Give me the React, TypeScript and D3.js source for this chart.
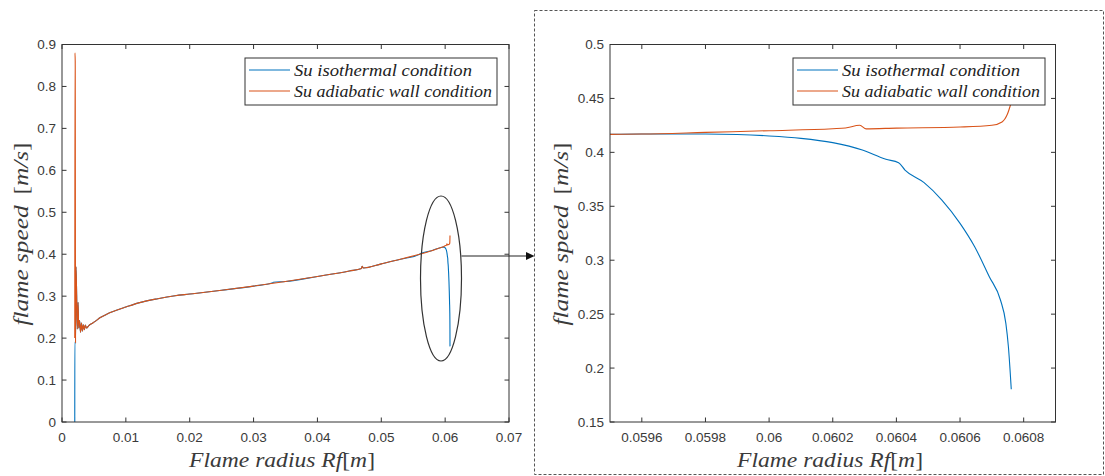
import React from "react";
import * as d3 from "d3";

// ---------- data ----------
const isoRadius = [
  0.002, 0.00201, 0.00212, 0.00219, 0.0023, 0.0024, 0.00252, 0.00262, 0.00275, 0.0029, 0.00305, 0.0032,
  0.00335, 0.0035, 0.00365, 0.00385, 0.0042, 0.0047, 0.0052, 0.006, 0.007, 0.0083, 0.01, 0.012, 0.015,
  0.0177, 0.02, 0.025, 0.03, 0.033, 0.0331, 0.035, 0.04, 0.045, 0.0469, 0.047, 0.0472, 0.05, 0.053, 0.056,
  0.0561, 0.058, 0.0595, 0.0596, 0.0598, 0.0599, 0.06, 0.0601, 0.0602, 0.060293, 0.060367, 0.060407,
  0.060427, 0.060487, 0.060543, 0.0606, 0.060646, 0.060692, 0.060727, 0.060744, 0.060752, 0.060761,
];
const isoSpeed = [
  0.0, 0.19, 0.188, 0.37, 0.3, 0.222, 0.285, 0.224, 0.242, 0.214, 0.236, 0.217,
  0.232, 0.22, 0.231, 0.224, 0.23, 0.235, 0.24, 0.249, 0.257, 0.265, 0.274, 0.284, 0.294,
  0.301, 0.305, 0.314, 0.324, 0.332, 0.333, 0.335, 0.347, 0.36, 0.366, 0.371, 0.367, 0.377, 0.388, 0.4,
  0.401, 0.409, 0.4167, 0.417, 0.417, 0.4165, 0.4152, 0.413, 0.409, 0.4022, 0.3936, 0.3904,
  0.3836, 0.3719, 0.3558, 0.3342, 0.3125, 0.2847, 0.2631, 0.2415, 0.2198, 0.1803,
];

const adiRadius = [
  0.002, 0.00203, 0.00207, 0.00212, 0.00219, 0.0023, 0.0024, 0.00252, 0.00262, 0.00275, 0.0029, 0.00305,
  0.0032, 0.00335, 0.0035, 0.00365, 0.00385, 0.0042, 0.0047, 0.0052, 0.006, 0.007, 0.0083, 0.01, 0.012,
  0.015, 0.0177, 0.02, 0.025, 0.03, 0.035, 0.04, 0.045, 0.0469, 0.047, 0.0472, 0.05, 0.053, 0.056, 0.058,
  0.0595, 0.0596, 0.0598, 0.06, 0.0602, 0.06024, 0.060285, 0.060305, 0.0604, 0.0606, 0.0607, 0.060732,
  0.060749, 0.060759,
];
const adiSpeed = [
  0.2, 0.88, 0.86, 0.188, 0.37, 0.3, 0.222, 0.285, 0.224, 0.242, 0.214, 0.236,
  0.217, 0.232, 0.22, 0.231, 0.224, 0.23, 0.235, 0.24, 0.249, 0.257, 0.265, 0.274, 0.284,
  0.294, 0.301, 0.305, 0.314, 0.324, 0.335, 0.347, 0.36, 0.366, 0.371, 0.367, 0.377, 0.388, 0.4, 0.409,
  0.4167, 0.417, 0.4185, 0.4201, 0.4219, 0.4226, 0.4251, 0.4218, 0.4225, 0.4235, 0.4251, 0.4282,
  0.4355, 0.4444,
];

const seriesNames = ["Su isothermal condition", "Su adiabatic wall condition"];
const seriesColors = ["#0072BD", "#D95319"];

const fullXTicks = [0, 0.01, 0.02, 0.03, 0.04, 0.05, 0.06, 0.07];
const fullXTickLabels = ["0", "0.01", "0.02", "0.03", "0.04", "0.05", "0.06", "0.07"];
const fullYTicks = [0, 0.1, 0.2, 0.3, 0.4, 0.5, 0.6, 0.7, 0.8, 0.9];
const fullYTickLabels = ["0", "0.1", "0.2", "0.3", "0.4", "0.5", "0.6", "0.7", "0.8", "0.9"];

const zoomXTicks = [0.0596, 0.0598, 0.06, 0.0602, 0.0604, 0.0606, 0.0608];
const zoomXTickLabels = ["0.0596", "0.0598", "0.06", "0.0602", "0.0604", "0.0606", "0.0608"];
const zoomYTicks = [0.15, 0.2, 0.25, 0.3, 0.35, 0.4, 0.45, 0.5];
const zoomYTickLabels = ["0.15", "0.2", "0.25", "0.3", "0.35", "0.4", "0.45", "0.5"];

// ---------- layout ----------
const W = 1105;
const H = 476;
const AX = "#333333";
const TXT = "#3a3a3a";
const SERIF = "'Liberation Serif', 'DejaVu Serif', serif";
const SANS = "'Liberation Sans', Arial, sans-serif";

type PanelProps = {
  id: string;
  left: number;
  right: number;
  top: number;
  bottom: number;
  xDomain: [number, number];
  yDomain: [number, number];
  xTicks: number[];
  xTickLabels: string[];
  yTicks: number[];
  yTickLabels: string[];
  legendX: number;
  yLabelX: number;
  xLabelX: number;
};

function Panel(p: PanelProps) {
  const x = d3.scaleLinear().domain(p.xDomain).range([p.left, p.right]);
  const y = d3.scaleLinear().domain(p.yDomain).range([p.bottom, p.top]);
  const line = d3
    .line<[number, number]>()
    .x((d) => x(d[0]))
    .y((d) => y(d[1]))
    .curve(d3.curveMonotoneX);
  const iso: [number, number][] = isoRadius.map((r, i) => [r, isoSpeed[i]]);
  const adi: [number, number][] = adiRadius.map((r, i) => [r, adiSpeed[i]]);
  const tl = 4.5;
  const clipId = "clip-" + p.id;
  const lx = p.legendX;
  const ly = 58;
  return (
    <g>
      <defs>
        <clipPath id={clipId}>
          <rect x={p.left} y={p.top} width={p.right - p.left} height={p.bottom - p.top} />
        </clipPath>
      </defs>
      <g clipPath={`url(#${clipId})`} fill="none" strokeWidth={1.1} strokeLinejoin="round">
        <path d={line(iso) || ""} stroke={seriesColors[0]} />
        <path d={line(adi) || ""} stroke={seriesColors[1]} />
      </g>
      {/* ticks (mirrored, inward) */}
      <g stroke={AX} strokeWidth={1}>
        {p.xTicks.map((t, i) => (
          <g key={"xt" + i}>
            <line x1={x(t)} x2={x(t)} y1={p.bottom} y2={p.bottom - tl} />
            <line x1={x(t)} x2={x(t)} y1={p.top} y2={p.top + tl} />
          </g>
        ))}
        {p.yTicks.map((t, i) => (
          <g key={"yt" + i}>
            <line x1={p.left} x2={p.left + tl} y1={y(t)} y2={y(t)} />
            <line x1={p.right} x2={p.right - tl} y1={y(t)} y2={y(t)} />
          </g>
        ))}
      </g>
      <rect
        x={p.left}
        y={p.top}
        width={p.right - p.left}
        height={p.bottom - p.top}
        fill="none"
        stroke={AX}
        strokeWidth={1}
      />
      {/* tick labels */}
      <g fontFamily={SANS} fontSize={13.5} fill={TXT}>
        {p.xTicks.map((t, i) => (
          <text key={"xl" + i} x={x(t)} y={p.bottom + 20} textAnchor="middle">
            {p.xTickLabels[i]}
          </text>
        ))}
        {p.yTicks.map((t, i) => (
          <text key={"yl" + i} x={p.left - 6} y={y(t) + 4.8} textAnchor="end">
            {p.yTickLabels[i]}
          </text>
        ))}
      </g>
      {/* axis labels */}
      <text
        x={p.xLabelX - 93}
        y={467}
        fontFamily={SERIF}
        fontSize={21}
        fill={TXT}
        textLength={186}
        lengthAdjust="spacingAndGlyphs"
      >
        <tspan fontStyle="italic">Flame radius Rf</tspan>
        <tspan>[</tspan>
        <tspan fontStyle="italic">m</tspan>
        <tspan>]</tspan>
      </text>
      <text
        transform={`translate(${p.yLabelX + 7},${234 + 91.5}) rotate(-90)`}
        fontFamily={SERIF}
        fontSize={21}
        fill={TXT}
        textLength={183}
        lengthAdjust="spacingAndGlyphs"
      >
        <tspan fontStyle="italic">flame speed</tspan>
        <tspan dx={9}>[</tspan>
        <tspan fontStyle="italic">m/s</tspan>
        <tspan>]</tspan>
      </text>
      {/* legend */}
      <rect x={lx} y={ly} width={252} height={47} fill="#fff" stroke={AX} strokeWidth={1} />
      {seriesNames.map((name, i) => {
        const rowY = ly + 12 + i * 21;
        return (
          <g key={"lg" + i}>
            <line x1={lx + 4} x2={lx + 45} y1={rowY} y2={rowY} stroke={seriesColors[i]} strokeWidth={1.1} />
            <text
              x={lx + 49}
              y={rowY + 5.5}
              fontFamily={SERIF}
              fontStyle="italic"
              fontSize={17}
              fill="#222"
              textLength={i === 0 ? 178 : 198}
              lengthAdjust="spacingAndGlyphs"
            >
              {name}
            </text>
          </g>
        );
      })}
    </g>
  );
}

export default function App() {
  return (
    <svg
      width={W}
      height={H}
      style={{ position: "absolute", left: 0, top: 0, background: "#fff" }}
      xmlns="http://www.w3.org/2000/svg"
    >
      <rect x={0} y={0} width={W} height={H} fill="#fff" />
      <Panel
        id="full"
        left={62}
        right={509}
        top={44.5}
        bottom={422}
        xDomain={[0, 0.07]}
        yDomain={[0, 0.9]}
        xTicks={fullXTicks}
        xTickLabels={fullXTickLabels}
        yTicks={fullYTicks}
        yTickLabels={fullYTickLabels}
        legendX={245}
        yLabelX={20.5}
        xLabelX={282}
      />
      <Panel
        id="zoom"
        left={610}
        right={1055.5}
        top={44.5}
        bottom={422}
        xDomain={[0.0595, 0.0609]}
        yDomain={[0.15, 0.5]}
        xTicks={zoomXTicks}
        xTickLabels={zoomXTickLabels}
        yTicks={zoomYTicks}
        yTickLabels={zoomYTickLabels}
        legendX={793}
        yLabelX={560.5}
        xLabelX={830}
      />
      {/* zoom callout */}
      <ellipse cx={441} cy={278.5} rx={20.5} ry={82.5} fill="none" stroke="#333" strokeWidth={1.2} />
      <line x1={461.5} x2={527} y1={256} y2={256} stroke="#222" strokeWidth={1.2} />
      <path d="M526,252 L534.5,256 L526,260 Z" fill="#111" />
      <rect
        x={534.5}
        y={10.5}
        width={569}
        height={464}
        fill="none"
        stroke="#555"
        strokeWidth={1}
        strokeDasharray="3,2"
      />
    </svg>
  );
}
